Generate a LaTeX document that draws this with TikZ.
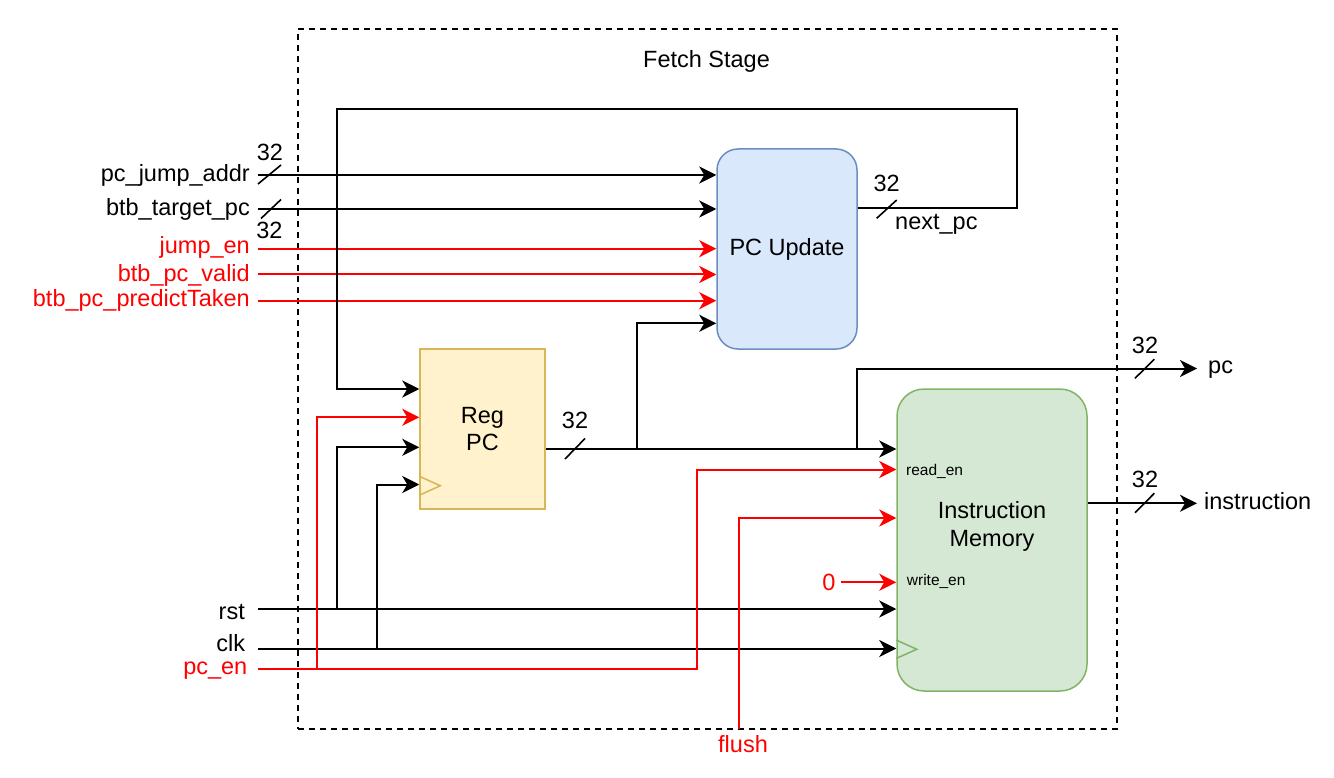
\documentclass[tikz,border=0pt]{standalone}
\usepackage{fontspec}
\setmainfont{Liberation Sans}
\usetikzlibrary{arrows.meta}
\definecolor{pcfill}{HTML}{DAE8FC}
\definecolor{pcdraw}{HTML}{6C8EBF}
\definecolor{regfill}{HTML}{FFF2CC}
\definecolor{regdraw}{HTML}{D6B656}
\definecolor{imfill}{HTML}{D5E8D4}
\definecolor{imdraw}{HTML}{82B366}
\definecolor{sigred}{HTML}{FF0000}
\begin{document}
\begin{tikzpicture}[x=1pt,y=-1pt,
  font=\fontsize{23.5}{27}\selectfont,
  wire/.style={line width=2pt},
  arr/.style={wire,-{Stealth[length=17pt,width=17pt,inset=5pt]}},
  redwire/.style={wire,draw=sigred},
  redarr/.style={arr,draw=sigred},
  slash/.style={line width=1.6pt},
  lbl/.style={inner sep=0pt},
  redlbl/.style={inner sep=0pt,text=sigred},
  small/.style={inner sep=0pt,font=\fontsize{15.5}{18}\selectfont},
  blockbox/.style={line width=1.5pt,inner sep=0pt,align=center},
  frame/.style={draw,line width=1.8pt,dash pattern=on 6pt off 5pt,minimum width=819pt,minimum height=700pt,inner sep=0pt}
]
\useasboundingbox (0,0) rectangle (1334,778);

% container
\node[frame] (fetch) at (707.5,379) {};
\node[lbl,anchor=base] (fetchlbl) at (706.5,67.3) {Fetch Stage};

% blocks
\node[blockbox,fill=pcfill,draw=pcdraw,rounded corners=21pt,minimum width=140pt,minimum height=200pt] (pcu) at (787,249) {PC Update};
\node[blockbox,fill=regfill,draw=regdraw,minimum width=125pt,minimum height=160pt,font=\fontsize{23.5}{26.7}\selectfont] (reg) at (482.5,429) {Reg\\PC};
\node[blockbox,fill=imfill,draw=imdraw,rounded corners=27pt,minimum width=190pt,minimum height=302pt] (im) at (992,540) {};
\node[lbl,align=center,font=\fontsize{23.5}{28.4}\selectfont] (imtxt) at (992,526.5) {Instruction\\Memory};
\node[small,anchor=base west] (rdlbl) at (906,475.7) {read\_en};
\node[small,anchor=base west] (wrlbl) at (906.7,585.7) {write\_en};

% clock triangles
\draw[regdraw,line width=1.5pt] ([yshift=33.5pt]reg.south west) -- ++(21,9.5) -- ++(-21,9.5);
\draw[imdraw,line width=1.5pt] ([yshift=51.7pt]im.south west) -- ++(20.5,9.2) -- ++(-20.5,9.2);

% input labels
\node[lbl,anchor=base east] (ljump) at (250,181.7) {pc\_jump\_addr};
\node[lbl,anchor=base east] (lbtbt) at (250,216) {btb\_target\_pc};
\node[redlbl,anchor=base east] (ljen) at (250,254) {jump\_en};
\node[redlbl,anchor=base east] (lvalid) at (250,281.7) {btb\_pc\_valid};
\node[redlbl,anchor=base east] (lpred) at (250,306.7) {btb\_pc\_predictTaken};
\node[lbl,anchor=base east] (lrst) at (245,619.3) {rst};
\node[lbl,anchor=base east] (lclk) at (245.4,651) {clk};
\node[redlbl,anchor=base east] (lpcen) at (247.5,674) {pc\_en};
\node[redlbl,anchor=base] (lflush) at (743,752.7) {flush};
\node[redlbl,anchor=base] (lzero) at (829,590.7) {0};

% output labels
\node[lbl,anchor=base west] (lpc) at (1208,373.3) {pc};
\node[lbl,anchor=base west] (linstr) at (1204,509) {instruction};
\node[lbl,anchor=base west] (lnext) at (895,230) {next\_pc};

% bus widths
\node[lbl,anchor=base] (w1) at (270,160.7) {32};
\node[lbl,anchor=base] (w2) at (269.5,239) {32};
\node[lbl,anchor=base] (w3) at (575,428.3) {32};
\node[lbl,anchor=base] (w4) at (886.7,191.7) {32};
\node[lbl,anchor=base] (w5) at (1145,353.3) {32};
\node[lbl,anchor=base] (w6) at (1145,487.7) {32};

% free ends
\coordinate (injump) at (258,175);
\coordinate (inbtbt) at (258,209);
\coordinate (injen) at (258,248.7);
\coordinate (invalid) at (258,274.5);
\coordinate (inpred) at (258,300.7);
\coordinate (inrst) at (258,609);
\coordinate (inclk) at (258,648.5);
\coordinate (inpcen) at (258,668.5);
\coordinate (inflush) at (739,729);
\coordinate (zeroout) at (841,582.3);
\coordinate (pcout) at (1197,368.5);
\coordinate (instrout) at (1197,503.3);

% PC Update inputs
\draw[arr] (injump) -- ([yshift=74pt]pcu.west);
\draw[arr] (inbtbt) -- ([yshift=40pt]pcu.west);
\draw[redarr] (injen) -- ([yshift=0.3pt]pcu.west);
\draw[redarr] (invalid) -- ([yshift=-25.5pt]pcu.west);
\draw[redarr] (inpred) -- ([yshift=-51.7pt]pcu.west);

% next_pc feedback
\draw[arr] ([yshift=40.5pt]pcu.east) -- (1017,208.5) -- (1017,109) -- (337,109) -- (337,389) -- ([yshift=40pt]reg.west);

% reg PC output
\draw[arr] ([yshift=-20pt]reg.east) -- ([yshift=91pt]im.west);
\draw[arr] (637,449) -- (637,323.3) -- ([yshift=-74.3pt]pcu.west);
\draw[arr] (857,449) -- (857,368.5) -- (pcout);

% IM output
\draw[arr] ([yshift=36.7pt]im.east) -- (instrout);

% rst / clk
\draw[arr] (inrst) -- ([yshift=-69pt]im.west);
\draw[arr] (337,609) -- (337,447.3) -- ([yshift=-18.3pt]reg.west);
\draw[arr] (inclk) -- ([yshift=-108.5pt]im.west);
\draw[arr] (377,648.5) -- (377,484.5) -- ([yshift=-55.5pt]reg.west);

% pc_en
\draw[redarr] (inpcen) -- (697,668.5) -- (697,469.5) -- ([yshift=70.5pt]im.west);
\draw[redarr] (317,668.5) -- (317,417.3) -- ([yshift=11.7pt]reg.west);

% flush, write_en
\draw[redarr] (inflush) -- (739,518) -- ([yshift=22pt]im.west);
\draw[redarr] (zeroout) -- ([yshift=-42.3pt]im.west);

% bus slashes
\draw[slash] (258,184) -- (281,165);
\draw[slash] (261,218.5) -- (281,199.5);
\draw[slash] (565,459) -- (585,438.5);
\draw[slash] (876.7,218.3) -- (896.7,200);
\draw[slash] (1135,378.3) -- (1154.3,359.3);
\draw[slash] (1135,512.7) -- (1154.3,493.3);
\end{tikzpicture}
\end{document}
